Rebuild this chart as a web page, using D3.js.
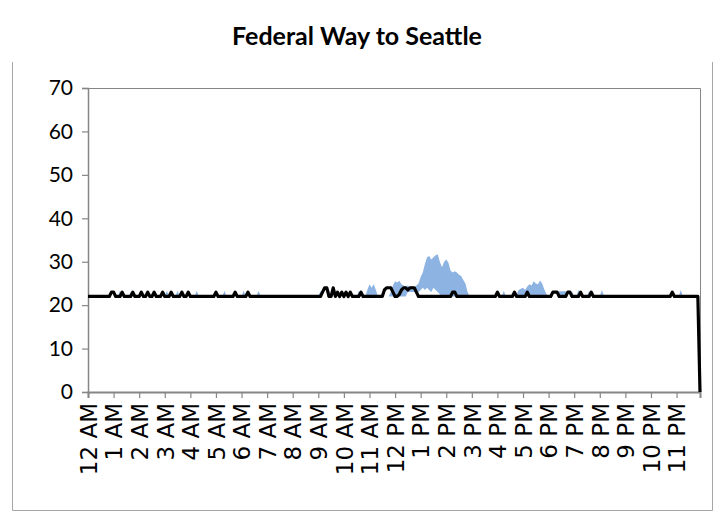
<!DOCTYPE html>
<html>
<head>
<meta charset="utf-8">
<script src="https://cdn.jsdelivr.net/npm/d3@7"></script>
<style>
  html, body { margin: 0; padding: 0; background: #fff; }
  svg { display: block; }
</style>
</head>
<body>
<svg id="chart" width="714" height="512"></svg>
<script>
// Hour labels along the bottom axis (one every 12 five-minute slots)
const hourLabels = ["12 AM","1 AM","2 AM","3 AM","4 AM","5 AM","6 AM","7 AM","8 AM","9 AM","10 AM","11 AM",
                    "12 PM","1 PM","2 PM","3 PM","4 PM","5 PM","6 PM","7 PM","8 PM","9 PM","10 PM","11 PM"];
const yTicks = [0, 10, 20, 30, 40, 50, 60, 70];

// Typical travel time (minutes), five-minute slots, one row per hour
const travelTime = [
  22,22,22,22,22,22,22,22,22,22,22,23,
  23,22,22,22,23,22,22,22,22,23,22,22,
  22,23,22,22,23,22,22,23,22,22,22,23,
  22,22,22,23,22,22,22,22,23,22,22,23,
  22,22,22,22,22,22,22,22,22,22,22,22,
  23,22,22,22,22,22,22,22,22,23,22,22,
  22,22,22,23,22,22,22,22,22,22,22,22,
  22,22,22,22,22,22,22,22,22,22,22,22,
  22,22,22,22,22,22,22,22,22,22,22,22,
  22,22,23,24,24,22,22,24,22,23,22,23,
  22,23,22,23,22,22,22,22,23,22,22,22,
  22,22,22,22,22,22,22,23.5,24,24,24,23,
  22,22,22.5,23.5,24,24,23.5,24,24,24,23,22,
  22,22,22,22,22,22,22,22,22,22,22,22,
  22,22,22,23,23,22,22,22,22,22,22,22,
  22,22,22,22,22,22,22,22,22,22,22,22,
  23,22,22,22,22,22,22,22,23,22,22,22,
  22,22,23,22,22,22,22,22,22,22,22,22,
  22,22,23,23,23,22,22,22,22,23,23,22,
  22,22,22,23,22,22,22,22,23,22,22,22,
  22,22,22,22,22,22,22,22,22,22,22,22,
  22,22,22,22,22,22,22,22,22,22,22,22,
  22,22,22,22,22,22,22,22,22,22,23,22,
  22,22,22,22,22,22,22,22,22,22,22,0
];

// Range of observed travel times: lower edge
const rangeLow = [
  22,22,22,22,22,22,22,22,22,22,22,22,
  22,22,22,22,22,22,22,22,22,22,22,22,
  22,22,22,22,22,22,22,22,22,22,22,22,
  22,22,22,22,22,22,22,22,22,22,22,22,
  22,22,22,22,22,22,22,22,22,22,22,22,
  22,22,22,22,22,22,22,22,22,22,22,22,
  22,22,22,22,22,22,22,22,22,22,22,22,
  22,22,22,22,22,22,22,22,22,22,22,22,
  22,22,22,22,22,22,22,22,22,22,22,22,
  22,22,22,22,22,22,22,22,22,22,22,22,
  22,22,22,22,22,22,22,22,22,22,22,22,
  22,22,22,22,22,22,22,22,22,22,22,22,
  22,22,22,22,22,22,23,23,23,23,23,23,
  23.5,24,23.5,24,23.5,23,24,23.5,23,22.5,22,22,
  22,22,22,22,22,22,22,22,22,22,22,22,
  22,22,22,22,22,22,22,22,22,22,22,22,
  22,22,22,22,22,22,22,22,22,22,22,22,
  22,22,22,22,22,22,22,22,22,22,22,22,
  22,22,22,22,22,22,22,22,22,22,22,22,
  22,22,22,22,22,22,22,22,22,22,22,22,
  22,22,22,22,22,22,22,22,22,22,22,22,
  22,22,22,22,22,22,22,22,22,22,22,22,
  22,22,22,22,22,22,22,22,22,22,22,22,
  22,22,22,22,22,22,22,22,22,22,22,22
];

// Range of observed travel times: upper edge
const rangeHigh = [
  22,22,22,22,22,22,22,22,22,22,22,22,
  22,22,22,23.3,22,22,22,22,23,22,22,22,
  22,22,22,22,22,22,22,22,22,22,22,22,
  22,23.3,22,22,22,22,23.3,22,22,22,22,22,
  22,22,22,23.3,22,22,22,22,22,22,22,22,
  22,22,22,22,23.3,22,22,22,22,22,22,22,
  22,23.3,22,22,22,22,22,22,23.3,22,22,22,
  22,22,22,22,22,22,22,22,22,22,22,22,
  22,22,22,22,22,22,22,22,22,22,22,22,
  22,23.3,22,22,22,23.5,22,22,22,22,22,22,
  22,22,22,22,22,22,22,23.3,22,22,22,23.5,
  24.8,24,24.8,23.5,22,22,22,22,22,22,23,24.5,
  25.5,25.2,25.6,24.8,24.5,24.3,24.5,24.2,24.4,24,24.5,25,
  26.5,27.5,29.5,31,31.3,30.5,31,31.5,31.7,30,28.7,30,
  30.5,29.8,28,27.5,27.8,27.5,27,26.7,25.8,25,23,22,
  22,22,22,22,22,22,22,22,22,22,22,22,
  22,22,22,23.3,22,22,22,22,22,22.5,23.5,23.8,
  24,23.5,24.3,24.8,24.5,25.5,25,24.8,25.7,25,23.6,22.5,
  22,22,22,22,22,23.2,23.2,23.2,23.2,22,22,23.2,
  22,22,23.5,22,22,22,22,23.3,22,22,22,22,
  22,23.5,22,22,22,22,22,22,22,22,22,22,
  22,22,22,22,22,22,22,22,22,22,22,22,
  22,22,22,22,22,22,22,22,22,22,22,22,
  22,22,23.5,22,22,22,22,22,22,22,22,22
];

const svg = d3.select("#chart");
const W = 714, H = 512;
const plot = { left: 88, right: 700, top: 88, bottom: 392 };
const axisGray = "#868686";

const slots = d3.range(travelTime.length);
const x = d3.scaleLinear().domain([0, slots.length - 1]).range([plot.left, plot.right]);
const y = d3.scaleLinear().domain([0, 70]).range([plot.bottom, plot.top]);

// Outer chart frame
svg.append("path")
  .attr("d", `M12.5,62 V510.5 H712.5 V62`)
  .attr("fill", "none")
  .attr("stroke", "#a6a6a6")
  .attr("stroke-width", 1);

// Title
svg.append("text")
  .attr("x", W / 2)
  .attr("y", 45)
  .attr("text-anchor", "middle")
  .attr("font-family", "Lato, 'Open Sans', sans-serif")
  .attr("font-weight", "bold")
  .attr("font-size", 25)
  .attr("fill", "#000")
  .text("Federal Way to Seattle");

// Plot border (top and right)
svg.append("path")
  .attr("d", `M${plot.left},${plot.top + 0.5} H${plot.right + 0.5} V${plot.bottom}`)
  .attr("fill", "none")
  .attr("stroke", axisGray)
  .attr("stroke-width", 1);

// Range band
const band = d3.area()
  .x(i => x(i))
  .y0(i => y(rangeLow[i]))
  .y1(i => y(rangeHigh[i]));
svg.append("path")
  .datum(slots)
  .attr("d", band)
  .attr("fill", "#8db3e2");

// Y axis
const yAxis = svg.append("g")
  .attr("transform", `translate(${plot.left},0)`)
  .call(d3.axisLeft(y).tickValues(yTicks).tickSize(6).tickPadding(9).tickFormat(d3.format("d")));
yAxis.select(".domain").attr("stroke", axisGray).attr("stroke-width", 1.5);
yAxis.selectAll(".tick line").attr("stroke", axisGray).attr("stroke-width", 1.2);
yAxis.selectAll(".tick text")
  .attr("font-family", "Lato, 'Open Sans', sans-serif")
  .attr("font-size", 21)
  .attr("fill", "#000");

// X axis
const hourSlots = hourLabels.map((_, h) => h * 12);
const xAxis = svg.append("g")
  .attr("transform", `translate(0,${plot.bottom})`)
  .call(d3.axisBottom(x).tickValues(hourSlots).tickSize(6).tickPadding(8)
        .tickFormat((d, i) => hourLabels[i]));
xAxis.select(".domain").attr("stroke", axisGray).attr("stroke-width", 2);
xAxis.selectAll(".tick line").attr("stroke", axisGray).attr("stroke-width", 1.2);
xAxis.selectAll(".tick text")
  .attr("font-family", "'DejaVu Sans', sans-serif")
  .attr("font-size", 23)
  .attr("fill", "#000")
  .attr("text-anchor", "end")
  .attr("dy", "0.36em")
  .attr("transform", "rotate(-90)")
  .attr("x", -11)
  .attr("y", 0);

// Travel time line
const line = d3.line()
  .x(i => x(i))
  .y(i => y(travelTime[i]));
svg.append("path")
  .datum(slots)
  .attr("d", line)
  .attr("fill", "none")
  .attr("stroke", "#000")
  .attr("stroke-width", 3.2)
  .attr("stroke-linejoin", "round");
</script>
</body>
</html>
